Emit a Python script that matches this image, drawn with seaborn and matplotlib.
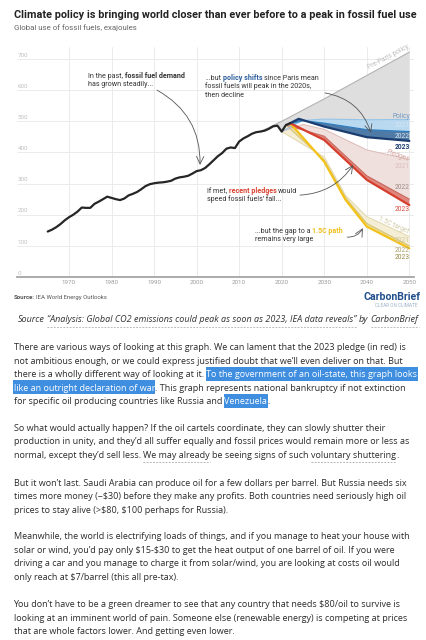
import numpy as np
import pandas as pd
import matplotlib
matplotlib.use("Agg")
import matplotlib.pyplot as plt
import seaborn as sns
from matplotlib.transforms import IdentityTransform
from matplotlib.lines import Line2D
from matplotlib.patches import Rectangle

# ---------------- data ----------------
hist_years = list(range(1965, 2023))
hist_vals = [146, 152, 160, 170, 182, 192, 200, 210, 223, 222,
             222, 235, 242, 250, 258, 254, 250, 247, 252, 262,
             267, 273, 282, 292, 298, 301, 303, 304, 306, 309,
             316, 320, 322, 325, 332, 340, 343, 350, 362, 375,
             388, 398, 412, 416, 414, 435, 445, 452, 460, 465,
             467, 470, 476, 484, 486, 467, 488, 494]

prepar_years = [2015, 2020, 2030, 2040, 2050]
prepar_vals = [467, 500, 572, 647, 722]

pol21_years = [2020, 2025, 2030, 2040, 2050]
pol21_vals = [467, 503, 507, 505, 506]
pol22_years = [2021, 2025, 2030, 2040, 2050]
pol22_vals = [488, 502, 494, 473, 467]
pol23_years = [2022, 2024, 2030, 2040, 2050]
pol23_vals = [494, 508, 483, 449, 437]

pl21_years = [2020, 2025, 2030, 2040, 2050]
pl21_vals = [467, 490, 474, 408, 378]
pl22_years = [2021, 2030, 2040, 2050]
pl22_vals = [488, 452, 325, 250]
pl23_years = [2022, 2030, 2040, 2050]
pl23_vals = [494, 440, 312, 231]

nz21_years = [2020, 2030, 2035, 2040, 2050]
nz21_vals = [467, 385, 262, 194, 130]
nz22_years = [2021, 2030, 2035, 2040, 2050]
nz22_vals = [488, 376, 255, 172, 100]
nz23_years = [2022, 2030, 2035, 2040, 2050]
nz23_vals = [494, 370, 248, 162, 92]

xtick_years = [1970, 1980, 1990, 2000, 2010, 2020, 2030, 2040, 2050]
ytick_vals = [0, 100, 200, 300, 400, 500, 600, 700]

title_text = "Climate policy is bringing world closer than ever before to a peak in fossil fuel use"
subtitle_text = "Global use of fossil fuels, exajoules"

body_paragraphs = [
    [
        [("There are various ways of looking at this graph. We can lament that the 2023 pledge (in red) is", "")],
        [("not ambitious enough, or we could express justified doubt that we\u2019ll even deliver on that. But", "")],
        [("there is a wholly different way of looking at it. ", ""), ("To the government of an oil-state, this graph looks", "hl")],
        [("like an outright declaration of war", "hl"), (". This graph represents national bankruptcy if not extinction", "")],
        [("for specific oil producing countries like Russia and ", ""), ("Venezuela", "hl"), (".", "")],
    ],
    [
        [("So what would actually happen? If the oil cartels coordinate, they can slowly shutter their", "")],
        [("production in unity, and they\u2019d all suffer equally and fossil prices would remain more or less as", "")],
        [("normal, except they\u2019d sell less. ", ""), ("We may already", "ul"), (" be seeing signs of such ", ""),
         ("voluntary shuttering", "ul"), (".", "")],
    ],
    [
        [("But it won\u2019t last. Saudi Arabia can produce oil for a few dollars per barrel. But Russia needs six", "")],
        [("times more money (~$30) before they make any profits. Both countries need seriously high oil", "")],
        [("prices to stay alive (>$80, $100 perhaps for Russia).", "")],
    ],
    [
        [("Meanwhile, the world is electrifying loads of things, and if you manage to heat your house with", "")],
        [("solar or wind, you\u2019d pay only $15-$30 to get the heat output of one barrel of oil. If you were", "")],
        [("driving a car and you manage to charge it from solar/wind, you are looking at costs oil would", "")],
        [("only reach at $7/barrel (this all pre-tax).", "")],
    ],
    [
        [("You don\u2019t have to be a green dreamer to see that any country that needs $80/oil to survive is", "")],
        [("looking at an imminent world of pain. Someone else (renewable energy) is competing at prices", "")],
        [("that are whole factors lower. And getting even lower.", "")],
    ],
]

# ---------------- setup ----------------
sns.set_theme(style="white")
plt.rcParams['font.family'] = ['Roboto', 'DejaVu Sans']
plt.rcParams['text.parse_math'] = False

W, H = 426, 640
fig = plt.figure(figsize=(W / 100, H / 100), dpi=100)
fig.patch.set_facecolor('white')
renderer = fig.canvas.get_renderer()
ID = IdentityTransform()

PX_YEAR = 4.254
PX_UNIT = 0.3114
X0_PX, X1_PX = 17, 414
Y0_PX, Y1_PX = 277, 47
x_left = 1970 - (69 - X0_PX) / PX_YEAR
x_right = 2050 + (X1_PX - 409.3) / PX_YEAR
y_top = (Y0_PX - Y1_PX) / PX_UNIT

ax = fig.add_axes([X0_PX / W, 1 - Y0_PX / H, (X1_PX - X0_PX) / W, (Y0_PX - Y1_PX) / H])
ax.set_xlim(x_left, x_right)
ax.set_ylim(0, y_top)
ax.set_facecolor('white')


def text_width(s, **kw):
    t = fig.text(0, 0, s, transform=ID, **kw)
    w = t.get_window_extent(renderer).width
    t.remove()
    return w


def fit_size(s, width, **kw):
    return 10 * width / text_width(s, fontsize=10, **kw)


def put_runs(x, yc, parts, size, family, color, hl_color='#3f8ee0', ul_color='#9a9a9a', zorder=5):
    """x in px from left, yc = visual centre in px from top."""
    fpx = size * 100 / 72
    yd = H - yc
    yb = yd - 0.36 * fpx
    cx = x
    for s, opt in parts:
        kw = dict(fontsize=size, family=family,
                  color=opt.get('color', color),
                  weight=opt.get('weight', 'normal'),
                  style=opt.get('style', 'normal'))
        sw = text_width("x x", **kw) - text_width("xx", **kw)
        lead = len(s) - len(s.lstrip(' '))
        trail = len(s) - len(s.rstrip(' '))
        core = s.strip(' ')
        cx += lead * sw
        if core:
            if opt.get('hl'):
                kw['color'] = 'white'
            t = fig.text(cx, yb, core, transform=ID, ha='left', va='baseline', zorder=zorder, **kw)
            bb = t.get_window_extent(renderer)
            x1 = bb.x1
            if opt.get('hl'):
                fig.patches.append(Rectangle((cx - 0.5, yd - 0.78 * fpx), x1 - cx + 1.0, 1.56 * fpx,
                                             transform=ID, facecolor=hl_color, edgecolor='none',
                                             zorder=zorder - 1))
            if opt.get('ul'):
                fig.add_artist(Line2D([cx, x1], [yd - 0.85 * fpx] * 2, transform=ID,
                                      color=ul_color, lw=0.6, ls=(0, (2.2, 1.6))))
            cx = x1
        cx += trail * sw
    return cx


# ---------------- axes styling ----------------
ax.set_xticks(xtick_years)
ax.set_xticklabels([str(y) for y in xtick_years])
ax.set_yticks(ytick_vals)
ax.grid(True, color='#ebebeb', lw=0.7)
ax.set_axisbelow(True)
for s in ['top', 'right', 'left']:
    ax.spines[s].set_visible(False)
ax.spines['bottom'].set_color('#a5a5a5')
ax.spines['bottom'].set_linewidth(1.3)
ax.tick_params(axis='y', left=False, labelleft=False)
ax.tick_params(axis='x', length=0, labelsize=4.5, labelcolor='#9c9c9c', pad=2.2)
for lab in ax.get_xticklabels():
    lab.set_family(['Roboto', 'DejaVu Sans'])
for v in ytick_vals:
    ax.text(x_left + 0.15, v + 4, str(v), ha='left', va='bottom', fontsize=4.5,
            color='#c0c0c0', family=['Roboto', 'DejaVu Sans'])


# ---------------- bands ----------------
def band(xa, ya, xb, yb, color, z):
    xs = list(xa) + list(xb)[::-1]
    ys = list(ya) + list(yb)[::-1]
    ax.fill(xs, ys, color=color, lw=0, zorder=z)


hist_df = pd.DataFrame({'year': hist_years, 'value': hist_vals})
h_sub = hist_df[(hist_df.year >= prepar_years[0]) & (hist_df.year <= pol21_years[0])]
gx = list(prepar_years) + list(pol21_years)[::-1] + list(h_sub.year)[::-1]
gy = list(prepar_vals) + list(pol21_vals)[::-1] + list(h_sub.value)[::-1]
ax.fill(gx, gy, color='#dedede', lw=0, zorder=1)

band(pol21_years, pol21_vals, pol22_years, pol22_vals, '#b9d9f0', 2)
band(pol22_years, pol22_vals, pol23_years, pol23_vals, '#4f7aa6', 2.1)
band(pl21_years, pl21_vals, pl22_years, pl22_vals, '#f0e0dd', 2)
band(pl22_years, pl22_vals, pl23_years, pl23_vals, '#e0867c', 2.1)
band(nz21_years, nz21_vals, nz22_years, nz22_vals, '#f4eed6', 2)
band(nz22_years, nz22_vals, nz23_years, nz23_vals, '#ecdea6', 2.1)


def line(xs, ys, color, lw, z):
    sns.lineplot(x=xs, y=ys, ax=ax, color=color, linewidth=lw, zorder=z, errorbar=None)


line(prepar_years, prepar_vals, '#b3b3b3', 0.8, 3)
line(nz21_years, nz21_vals, '#e2d7ab', 0.7, 3)
line(nz22_years, nz22_vals, '#d8c474', 0.8, 3)
line(nz23_years, nz23_vals, '#f2c21a', 1.6, 3.2)
line(pl21_years, pl21_vals, '#dcbab5', 0.7, 3)
line(pl22_years, pl22_vals, '#c8685c', 0.8, 3)
line(pl23_years, pl23_vals, '#d63e2e', 1.6, 3.2)
line(pol21_years, pol21_vals, '#96c4e6', 0.8, 3)
line(pol22_years, pol22_vals, '#2f7fc1', 0.9, 3)
line(pol23_years, pol23_vals, '#1b3c6e', 1.6, 3.3)
line(hist_years, hist_vals, '#262626', 1.6, 4)
ax.set_xlabel('')
ax.set_ylabel('')
ax.set_xlim(x_left, x_right)
ax.set_ylim(0, y_top)

# ---------------- right-hand labels ----------------
lab_fam = ['Roboto', 'DejaVu Sans']
lab_size = 4.8
right_labels = [
    ("Policy", 515, '#6f97c2', 'normal'),
    ("2021", 486, '#d6e6f4', 'normal'),
    ("2022", 451, '#dfe8f1', 'normal'),
    ("2023", 419, '#1d3f72', 'bold'),
    ("2021", 354, '#d9bfbb', 'normal'),
    ("2022", 288, '#9d8a85', 'normal'),
    ("2023", 218, '#d9483b', 'normal'),
    ("2021", 117, '#d3c89c', 'normal'),
    ("2022", 85, '#b0a174', 'normal'),
    ("2023", 63, '#978640', 'normal'),
]
for txt, v, c, wgt in right_labels:
    ax.text(2050.1, v, txt, ha='right', va='center', fontsize=lab_size, color=c,
            weight=wgt, family=lab_fam, zorder=6)
ax.text(2045.0, 706, "Pre-Paris policy", ha='center', va='center', rotation=28,
        fontsize=lab_size, color='#bdbdbd', family=lab_fam, zorder=6)
ax.text(2047.3, 388, "Pledges", ha='center', va='center', rotation=-20,
        fontsize=lab_size, color='#d4a7a2', family=lab_fam, zorder=6)
ax.text(2046.2, 166, "1.5C target", ha='center', va='center', rotation=-24,
        fontsize=lab_size, color='#d3caa6', family=lab_fam, zorder=6)


# ---------------- annotations ----------------
def data_px(x, y):
    dx, dy = ax.transData.transform((x, y))
    return dx, H - dy


ann_size = fit_size("remains very large", 58, family=lab_fam)
ann_col = '#333333'
ann_gap = 8.6
annotations = [
    ((1974.5, 648), [
        [("In the past, ", {}), ("fossil fuel demand", {'weight': 'bold'})],
        [("has grown steadily...", {})]]),
    ((2002.0, 642), [
        [("...but ", {}), ("policy shifts", {'weight': 'bold', 'color': '#2d5d9c'}), (" since Paris mean", {})],
        [("fossil fuels will peak in the 2020s,", {})],
        [("then decline", {})]]),
    ((2002.4, 279), [
        [("If met, ", {}), ("recent pledges", {'weight': 'bold', 'color': '#d9412f'}), (" would", {})],
        [("speed fossil fuels\u2019 fall...", {})]]),
    ((2013.7, 151), [
        [("...but the gap to a ", {}), ("1.5C path", {'weight': 'bold', 'color': '#f1bf1c'})],
        [("remains very large", {})]]),
]
for (ax_, ay_), lines_ in annotations:
    px, py = data_px(ax_, ay_)
    for i, parts in enumerate(lines_):
        put_runs(px, py + i * ann_gap, parts, ann_size, lab_fam, ann_col)

arrows = [
    ((1990.7, 600), (2000.8, 360), -0.3),
    ((2030.2, 591), (2041.0, 463), -0.3),
    ((2024.3, 263), (2036.8, 360), 0.25),
    ((2035.4, 128), (2039.1, 157), 0.3),
]
for start, end, rad in arrows:
    ax.annotate("", xy=end, xytext=start, zorder=7,
                arrowprops=dict(arrowstyle="->,head_length=0.45,head_width=0.22", color='#555555',
                                lw=0.6, shrinkA=0, shrinkB=0,
                                connectionstyle=f"arc3,rad={rad}"))

# ---------------- titles, source, logo ----------------
title_size = fit_size(title_text, 400, family=lab_fam, weight='bold')
put_runs(13.5, 14.5, [(title_text, {'weight': 'bold'})], title_size, lab_fam, '#222222')
sub_size = fit_size(subtitle_text, 124, family=lab_fam)
put_runs(13.5, 27.5, [(subtitle_text, {})], sub_size, lab_fam, '#666666')

src_parts = [("Source:", {'weight': 'bold'}), (" IEA World Energy Outlooks", {})]
src_size = fit_size("Source: IEA World Energy Outlooks", 92, family=lab_fam)
put_runs(14, 297, src_parts, src_size, lab_fam, '#555555')

logo_size = fit_size("CarbonBrief", 57, family=lab_fam, weight='bold')
put_runs(363, 296.5, [("CarbonBrief", {'weight': 'bold'})], logo_size, lab_fam, '#214f8c')
tag_size = fit_size("CLEAR ON CLIMATE", 43, family=lab_fam)
put_runs(375, 305.5, [("CLEAR ON CLIMATE", {})], tag_size, lab_fam, '#9fb1c8')

# caption (italic, linked parts underlined)
body_fam = ['Open Sans', 'DejaVu Sans']
cap_parts = [("Source ", {'style': 'italic'}),
             ("\u201cAnalysis: Global CO2 emissions could peak as soon as 2023, IEA data reveals\u201d",
              {'style': 'italic', 'ul': True}),
             (" by ", {'style': 'italic'}),
             ("CarbonBrief", {'style': 'italic', 'ul': True})]
cap_full = "".join(p[0] for p in cap_parts)
cap_size = fit_size(cap_full, 399, family=body_fam, style='italic')
put_runs(18, 319, cap_parts, cap_size, body_fam, '#333333', ul_color='#b0b0b0')

# ---------------- body text ----------------
body_size = fit_size(body_paragraphs[0][0][0][0], 394, family=body_fam)
para_tops = [346.7, 427.3, 482.3, 535.7, 604.0]
line_gap = 13.55
for top, para in zip(para_tops, body_paragraphs):
    for i, ln in enumerate(para):
        parts = []
        for s, flag in ln:
            parts.append((s, {'hl': flag == 'hl', 'ul': flag == 'ul'}))
        put_runs(13.5, top + i * line_gap, parts, body_size, body_fam, '#2b2b2b', ul_color='#a8a8a8')

fig.savefig("out.png", dpi=100, facecolor='white')
